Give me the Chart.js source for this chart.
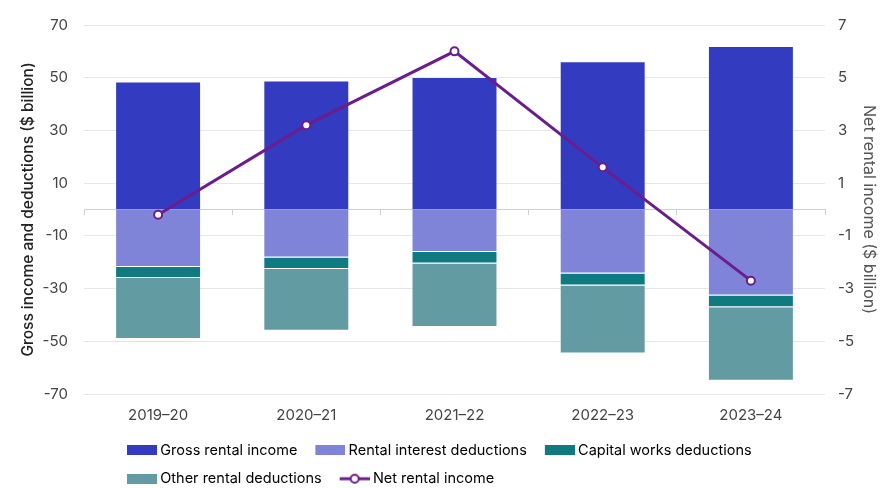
<!DOCTYPE html>
<html>
<head>
<meta charset="utf-8">
<script src="https://cdn.jsdelivr.net/npm/chart.js@4"></script>
<style>
  html, body { margin: 0; padding: 0; background: #ffffff; }
  #wrap { width: 880px; height: 488px; }
</style>
</head>
<body>
<div id="wrap"><canvas id="chart"></canvas></div>
<script>
// values, $ billion
const years = ['2019–20', '2020–21', '2021–22', '2022–23', '2023–24'];
const grossIncome = [48.6, 48.9, 50.3, 56.2, 62.0];
const interestDeductions = [-21.8, -18.2, -16.1, -24.3, -32.6];
const capitalWorks = [-4.2, -4.4, -4.4, -4.5, -4.5];
const otherDeductions = [-23.1, -23.4, -24.1, -25.8, -27.9];
const netIncome = [-0.2, 3.2, 6.0, 1.6, -2.7];

const leftTicks = [70, 50, 30, 10, -10, -30, -50, -70];
const rightTicks = [7, 5, 3, 1, -1, -3, -5, -7];

const seriesNames = ['Gross rental income', 'Rental interest deductions', 'Capital works deductions', 'Other rental deductions', 'Net rental income'];
const seriesColors = ['#333bc0', '#7f84d8', '#0f7a80', '#629ca2', '#6b1d8e'];

const FONT = 'Inter, "Noto Sans", sans-serif';

// legend markers: 38 wide canvas, mark sits in the right 30px so the text comes close
function boxMarker(color) {
	const c = document.createElement('canvas');
	c.width = 38; c.height = 10;
	const g = c.getContext('2d');
	g.fillStyle = color;
	g.fillRect(8, 0, 30, 10);
	return c;
}
function lineMarker(color) {
	const c = document.createElement('canvas');
	c.width = 38; c.height = 12;
	const g = c.getContext('2d');
	g.strokeStyle = color;
	g.lineWidth = 3;
	g.beginPath(); g.moveTo(8, 6); g.lineTo(38, 6); g.stroke();
	g.fillStyle = '#ffffff';
	g.lineWidth = 2;
	g.beginPath(); g.arc(23, 6, 4, 0, Math.PI * 2); g.fill(); g.stroke();
	return c;
}

// push the legend rightwards so it starts under the plot like the original
const legendShift = {
	id: 'legendShift',
	afterLayout(chart) {
		chart.legend.left += 25;
		chart.legend.right += 25;
	}
};

function barSet(i, values) {
	return {
		type: 'bar',
		label: seriesNames[i],
		data: values,
		backgroundColor: seriesColors[i],
		borderColor: 'rgba(255,255,255,0.35)',
		borderWidth: 1,
		yAxisID: 'y',
		stack: 'rent',
		order: 1,
		categoryPercentage: 1,
		barPercentage: 0.58
	};
}

const ctx = document.getElementById('chart');
new Chart(ctx, {
	type: 'bar',
	data: {
		labels: years,
		datasets: [
			barSet(0, grossIncome),
			barSet(1, interestDeductions),
			barSet(2, capitalWorks),
			barSet(3, otherDeductions),
			{
				type: 'line',
				label: seriesNames[4],
				data: netIncome,
				yAxisID: 'y2',
				borderColor: seriesColors[4],
				borderWidth: 3,
				pointRadius: 4,
				pointBorderWidth: 2,
				pointBackgroundColor: '#ffffff',
				pointBorderColor: seriesColors[4],
				tension: 0,
				order: 0
			}
		]
	},
	plugins: [legendShift],
	options: {
		responsive: true,
		maintainAspectRatio: false,
		animation: false,
		layout: { padding: { top: 23, left: 10, right: 2, bottom: -8 } },
		plugins: {
			tooltip: { enabled: false },
			legend: {
				position: 'bottom',
				align: 'start',
				fullSize: false,
				labels: {
					usePointStyle: true,
					pointStyleWidth: 30,
					boxHeight: 14,
					padding: 14,
					color: '#333333',
					font: { family: FONT, size: 14.5 },
					generateLabels: function () {
						return seriesNames.map(function (name, i) {
							return {
								text: name,
								pointStyle: i === 4 ? lineMarker(seriesColors[i]) : boxMarker(seriesColors[i]),
								fillStyle: seriesColors[i],
								strokeStyle: seriesColors[i],
								lineWidth: 0,
								datasetIndex: i,
								hidden: false
							};
						});
					}
				}
			}
		},
		scales: {
			x: {
				stacked: true,
				afterFit: function (axis) { axis.height -= 7; },
				grid: { display: false, drawTicks: false },
				border: { display: false },
				ticks: { color: '#444444', padding: 12, font: { family: FONT, size: 15 } }
			},
			// tick marks along the zero line
			xZero: {
				type: 'category',
				labels: years,
				position: { y: 0 },
				offset: true,
				afterFit: function (axis) { axis.height = 0; },
				grid: { offset: true, drawOnChartArea: false, tickLength: 5, color: '#d0d0d0' },
				border: { display: true, color: '#d0d0d0' },
				ticks: { display: false }
			},
			y: {
				stacked: true,
				position: 'left',
				min: -70,
				max: 70,
				afterBuildTicks: function (axis) {
					axis.ticks = leftTicks.map(function (v) { return { value: v }; });
				},
				afterFit: function (axis) { axis.width = 74; },
				grid: { color: '#e6e6e6', drawTicks: false },
				border: { display: false },
				ticks: { color: '#444444', padding: 16, font: { family: FONT, size: 15 } },
				title: {
					display: true,
					text: 'Gross income and deductions ($ billion)',
					color: '#222222',
					padding: { top: 9, bottom: 0 },
					font: { family: FONT, size: 15.5, weight: '500' }
				}
			},
			y2: {
				position: 'right',
				min: -7,
				max: 7,
				afterBuildTicks: function (axis) {
					axis.ticks = rightTicks.map(function (v) { return { value: v }; });
				},
				afterFit: function (axis) { axis.width = 53; },
				grid: { drawOnChartArea: false, drawTicks: false },
				border: { display: false },
				ticks: { color: '#444444', padding: 13, font: { family: FONT, size: 15 } },
				title: {
					display: true,
					text: 'Net rental income ($ billion)',
					color: '#555555',
					padding: { top: 0, bottom: 0 },
					font: { family: FONT, size: 16 }
				}
			}
		}
	}
});
</script>
</body>
</html>
